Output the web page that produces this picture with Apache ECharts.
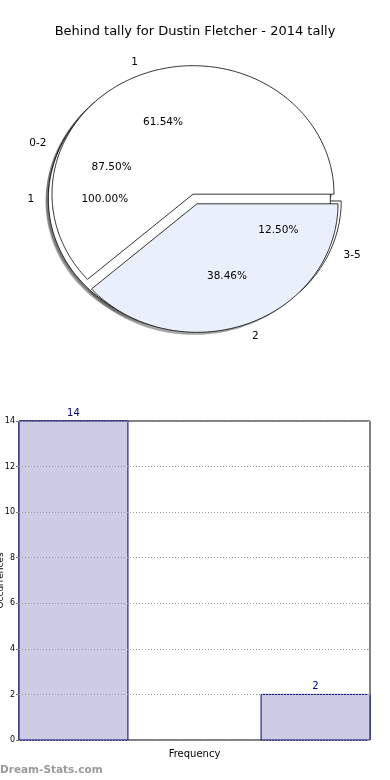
<!DOCTYPE html>
<html><head><meta charset="utf-8">
<script src="https://cdn.jsdelivr.net/npm/echarts@6/dist/echarts.min.js"></script>
<style>html,body{margin:0;padding:0;background:#fff}#c{width:390px;height:780px}</style>
</head><body><div id="c"></div>
<script>
// ---------- data ----------
const chartTitle = 'Behind tally for Dustin Fletcher - 2014 tally';
// three overlaid pies, drawn in this order (bottom to top)
const pieBLabels = ['0-2', '3-5'];
const pieBValues = [7, 1];
const pieCLabels = ['1'];
const pieCValues = [1];
const pieALabels = ['1', '2'];
const pieAValues = [8, 5];

const barPositions = [0, 1];
const barValues = [14, 2];
const barAxisName = 'Frequency';
const barYAxisName = 'Occurrences';
const yTickMin = 0, yTickMax = 14, yTickStep = 2;
const watermark = 'Dream-Stats.com';

// ---------- styles ----------
const FONT = 'DejaVu Sans';
const pieLayers = [
  {labels: pieBLabels, values: pieBValues, explode: [0.04, 0.04], colors: ['#ffffff', '#ffffff']},
  {labels: pieCLabels, values: pieCValues, explode: [0.04], colors: ['#ffffff']},
  {labels: pieALabels, values: pieAValues, explode: [0.04, 0.04], colors: ['#ffffff', '#EAF0FB']}
];

// build wedges from data
const wedges = [];
pieLayers.forEach((layer, li) => {
  const total = layer.values.reduce((a, b) => a + b, 0);
  let start = 0;
  layer.values.forEach((v, i) => {
    const span = v / total * 360;
    wedges.push({
      layer: li, start: start, end: start + span, explode: layer.explode[i],
      color: layer.colors[i], label: layer.labels[i], pct: (v / total * 100).toFixed(2) + '%'
    });
    start += span;
  });
});
const pieItems = [];
wedges.forEach(w => pieItems.push({kind: 'shadow', w: w}));
wedges.forEach(w => pieItems.push({kind: 'wedge', w: w}));
const labelItems = [];
wedges.forEach(w => {
  labelItems.push({kind: 'name', w: w});
  labelItems.push({kind: 'pct', w: w});
});

function wedgePoints(api, w, ox, oy) {
  const mid = (w.start + w.end) / 2 * Math.PI / 180;
  const cx = w.explode * Math.cos(mid) + ox;
  const cy = w.explode * Math.sin(mid) + oy;
  const pts = [];
  const full = (w.end - w.start) >= 359.999;
  if (!full) pts.push(api.coord([cx, cy]));
  const n = Math.max(4, Math.ceil(w.end - w.start));
  for (let k = 0; k <= n; k++) {
    const a = (w.start + (w.end - w.start) * k / n) * Math.PI / 180;
    pts.push(api.coord([cx + Math.cos(a), cy + Math.sin(a)]));
  }
  return pts;
}

const chart = echarts.init(document.getElementById('c'), null, {renderer: 'canvas'});
chart.setOption({
  animation: false,
  backgroundColor: '#ffffff',
  title: {
    text: chartTitle, left: 'center', top: 20,
    textStyle: {fontFamily: FONT, fontSize: 13, fontWeight: 'normal', color: '#000'}
  },
  grid: [
    {left: 54, width: 282, top: 70.5, height: 257, show: false, outerBoundsMode: 'none', containLabel: false},
    {left: 19, right: 20, top: 421, bottom: 40, show: true, borderColor: '#000', borderWidth: 1,
     backgroundColor: 'transparent', outerBoundsMode: 'none', containLabel: false}
  ],
  xAxis: [
    {gridIndex: 0, type: 'value', min: -1, max: 1, show: false},
    {gridIndex: 1, type: 'value', min: -0.225, max: 1.225,
     axisLine: {show: false, onZero: false}, axisTick: {show: false}, axisLabel: {show: false}, splitLine: {show: false},
     name: barAxisName, nameLocation: 'middle', nameGap: 9,
     nameTextStyle: {fontFamily: FONT, fontSize: 10, color: '#000'}}
  ],
  yAxis: [
    {gridIndex: 0, type: 'value', min: -1, max: 1, show: false},
    {gridIndex: 1, type: 'value', min: yTickMin, max: yTickMax, interval: yTickStep, z: 5,
     axisLine: {show: false, onZero: false},
     axisTick: {show: true, length: 3, lineStyle: {color: '#777'}},
     axisLabel: {fontFamily: FONT, fontSize: 8, color: '#000', margin: 4},
     splitLine: {show: true, lineStyle: {type: [1, 2], color: '#999', width: 1}},
     name: barYAxisName, nameLocation: 'middle', nameGap: 14, nameRotate: 90, nameMoveOverlap: false,
     nameTextStyle: {fontFamily: FONT, fontSize: 9, color: '#000'}},
    {gridIndex: 1, type: 'value', position: 'right', min: yTickMin, max: yTickMax, interval: yTickStep, z: 5,
     axisLine: {show: false, onZero: false}, axisLabel: {show: false}, splitLine: {show: false},
     axisTick: {show: true, inside: true, length: 2, lineStyle: {color: '#aaa'}}}
  ],
  graphic: [
    {type: 'text', left: 0, top: 765, style: {text: watermark, font: 'bold 10.5px ' + FONT, fill: '#9a9a9a'}}
  ],
  series: [
    {
      type: 'custom', coordinateSystem: 'cartesian2d', xAxisIndex: 0, yAxisIndex: 0, clip: false, z: 2,
      data: pieItems.map(() => [0, 0]),
      renderItem: function (params, api) {
        const it = pieItems[params.dataIndex];
        const w = it.w;
        if (it.kind === 'shadow') {
          return {type: 'polygon', z2: params.dataIndex,
            shape: {points: wedgePoints(api, w, -0.02, -0.02)},
            style: {fill: 'rgba(77,77,77,0.5)', stroke: null}};
        }
        return {type: 'polygon', z2: params.dataIndex,
          shape: {points: wedgePoints(api, w, 0, 0)},
          style: {fill: w.color, stroke: '#000', lineWidth: 0.8}};
      }
    },
    {
      type: 'custom', coordinateSystem: 'cartesian2d', xAxisIndex: 0, yAxisIndex: 0, clip: false, z: 5,
      data: labelItems.map(() => [0, 0]),
      renderItem: function (params, api) {
        const it = labelItems[params.dataIndex];
        const w = it.w;
        const mid = (w.start + w.end) / 2 * Math.PI / 180;
        const cx = w.explode * Math.cos(mid), cy = w.explode * Math.sin(mid);
        const d = it.kind === 'name' ? 1.1 : 0.6;
        const p = api.coord([cx + d * Math.cos(mid), cy + d * Math.sin(mid)]);
        let align = 'center';
        if (it.kind === 'name') align = Math.cos(mid) > 0 ? 'left' : 'right';
        return {type: 'text', x: p[0], y: p[1],
          style: {text: it.kind === 'name' ? w.label : w.pct, fill: '#000',
            fontFamily: FONT, fontSize: 10.5, align: align, verticalAlign: 'middle'}};
      }
    },
    {
      type: 'custom', coordinateSystem: 'cartesian2d', xAxisIndex: 1, yAxisIndex: 1, clip: false, z: 2,
      data: barPositions.map((x, i) => [x, barValues[i]]),
      encode: {x: 0, y: 1},
      renderItem: function (params, api) {
        const x = api.value(0), y = api.value(1);
        const bw = 0.45;
        const p0 = api.coord([x - bw / 2, 0]);
        const p1 = api.coord([x + bw / 2, y]);
        return {type: 'group', children: [
          {type: 'rect', shape: {x: p0[0], y: p1[1], width: p1[0] - p0[0], height: p0[1] - p1[1]},
           style: {fill: '#CCCCE4', stroke: '#000080', lineWidth: 1}},
          {type: 'text', x: (p0[0] + p1[0]) / 2, y: p1[1] - 3,
           style: {text: String(y), fill: '#000080', fontFamily: FONT, fontSize: 10, align: 'center', verticalAlign: 'bottom'}}
        ]};
      }
    }
  ]
});
</script>
</body></html>
